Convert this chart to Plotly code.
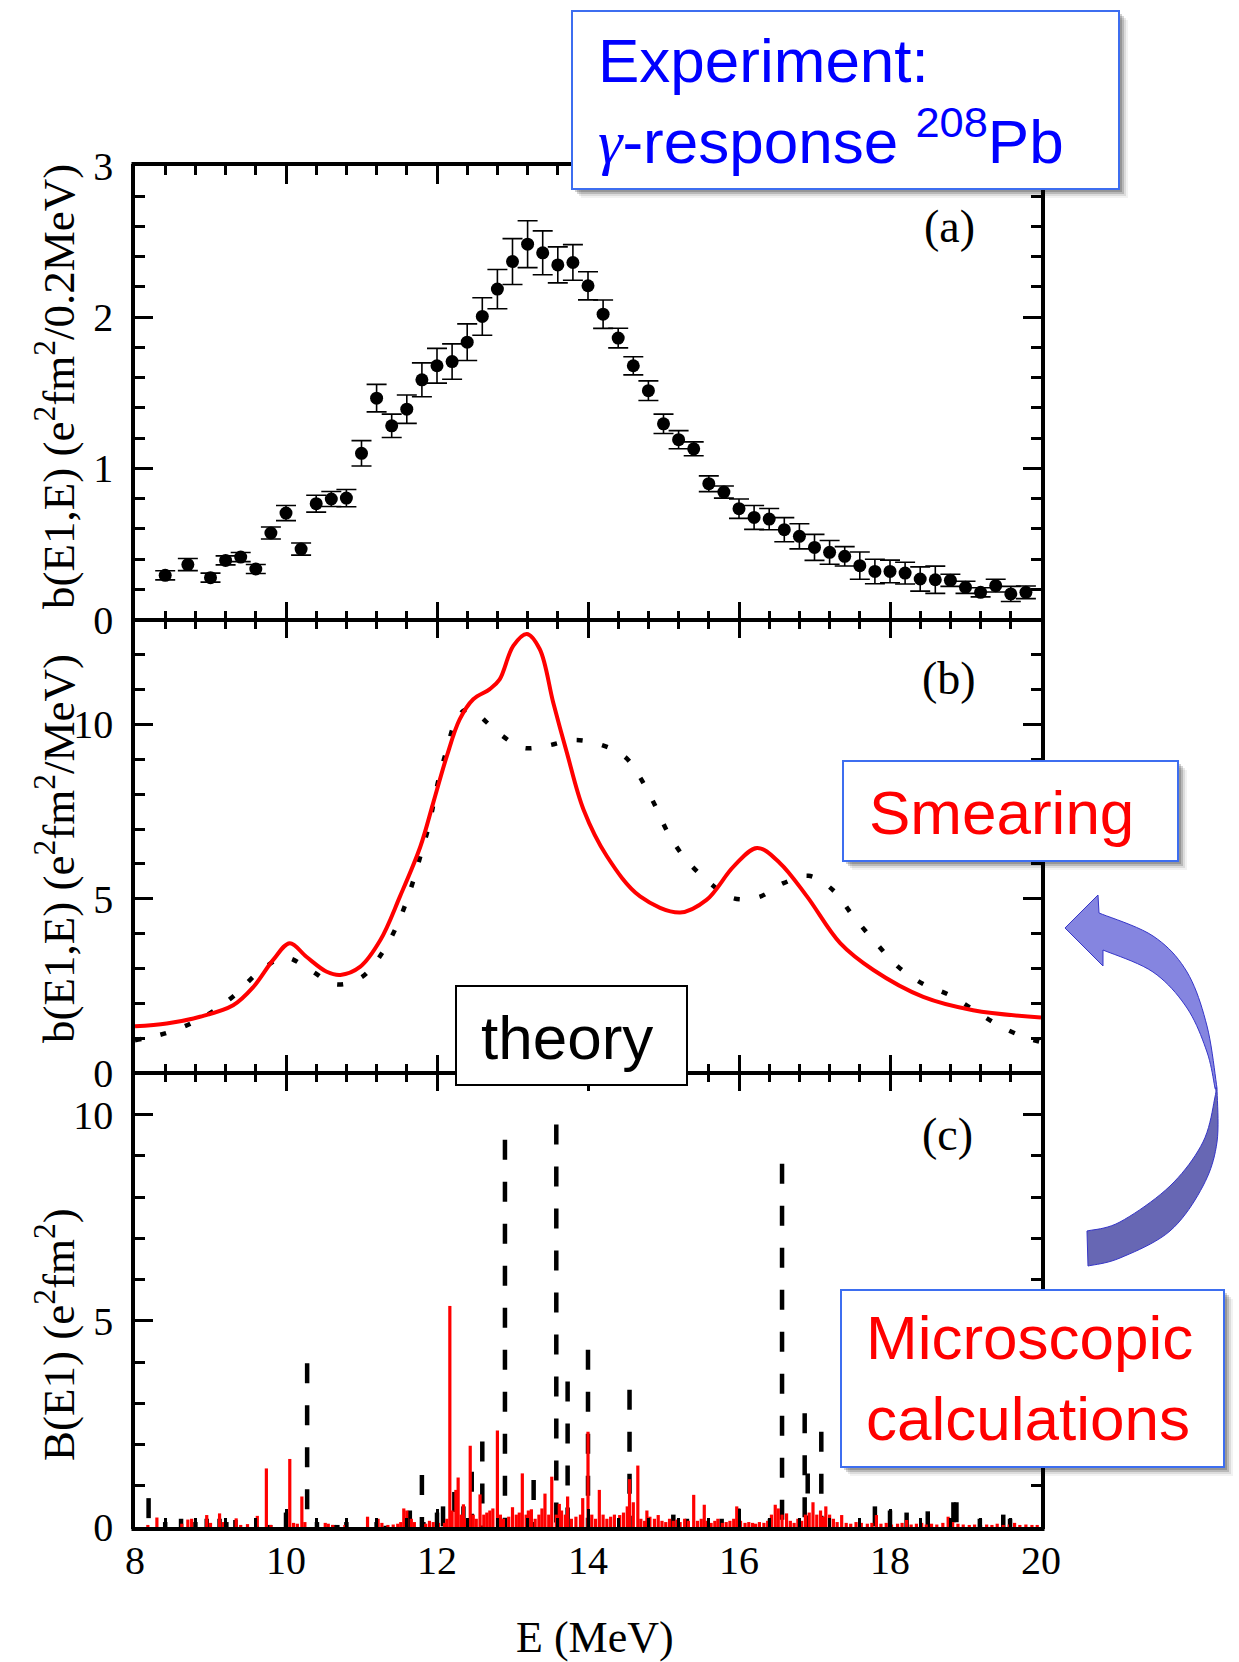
import plotly.graph_objects as go
from plotly.subplots import make_subplots

# ---------------- data ----------------
# (a) measured strength per 0.2 MeV bin with statistical errors
exp_energy = [8.4, 8.7, 9.0, 9.2, 9.4, 9.6, 9.8, 10.0, 10.2, 10.4, 10.6, 10.8,
              11.0, 11.2, 11.4, 11.6, 11.8, 12.0, 12.2, 12.4, 12.6, 12.8, 13.0,
              13.2, 13.4, 13.6, 13.8, 14.0, 14.2, 14.4, 14.6, 14.8, 15.0, 15.2,
              15.4, 15.6, 15.8, 16.0, 16.2, 16.4, 16.6, 16.8, 17.0, 17.2, 17.4,
              17.6, 17.8, 18.0, 18.2, 18.4, 18.6, 18.8, 19.0, 19.2, 19.4, 19.6, 19.8]
exp_strength = [0.293, 0.364, 0.278, 0.392, 0.414, 0.335, 0.573, 0.705, 0.467,
                0.767, 0.798, 0.804, 1.10, 1.465, 1.282, 1.392, 1.586, 1.679,
                1.707, 1.835, 2.005, 2.186, 2.368, 2.483, 2.426, 2.346, 2.362,
                2.208, 2.020, 1.862, 1.679, 1.514, 1.295, 1.190, 1.130, 0.899,
                0.844, 0.734, 0.676, 0.665, 0.595, 0.551, 0.478, 0.445, 0.419,
                0.357, 0.319, 0.319, 0.308, 0.269, 0.264, 0.260, 0.214, 0.181,
                0.225, 0.170, 0.181]
exp_error = [0.03, 0.04, 0.03, 0.03, 0.03, 0.03, 0.04, 0.05, 0.04, 0.056, 0.05,
             0.057, 0.084, 0.091, 0.077, 0.094, 0.112, 0.115, 0.117, 0.121,
             0.124, 0.13, 0.152, 0.155, 0.145, 0.119, 0.118, 0.093, 0.094,
             0.065, 0.06, 0.065, 0.064, 0.06, 0.046, 0.052, 0.04, 0.064, 0.079,
             0.07, 0.08, 0.083, 0.086, 0.079, 0.064, 0.09, 0.081, 0.075, 0.072,
             0.08, 0.09, 0.04, 0.04, 0.03, 0.042, 0.05, 0.042]

# (b) smeared strength functions
smear_red_energy = [8.0, 8.42, 8.86, 9.30, 9.57, 9.83, 10.05, 10.27, 10.54, 10.72,
                    10.98, 11.25, 11.51, 11.78, 11.95, 12.13, 12.30, 12.48, 12.70,
                    12.83, 13.01, 13.19, 13.36, 13.54, 13.72, 13.94, 14.25, 14.69,
                    15.22, 15.57, 15.93, 16.24, 16.54, 16.90, 17.34, 17.78, 18.44,
                    19.10, 20.0]
smear_red_value = [1.35, 1.43, 1.62, 1.95, 2.48, 3.25, 3.73, 3.34, 2.91, 2.82,
                   3.05, 3.82, 5.07, 6.50, 7.75, 9.09, 10.14, 10.72, 11.01,
                   11.29, 12.25, 12.59, 12.16, 10.62, 9.19, 7.56, 6.22, 5.07,
                   4.61, 4.97, 5.93, 6.46, 6.03, 5.07, 3.73, 2.96, 2.19,
                   1.81, 1.60]

smear_dot_energy = [8.0, 8.31, 8.66, 9.02, 9.32, 9.66, 9.99, 10.32, 10.66, 11.00,
                    11.28, 11.46, 11.59, 11.70, 11.80, 11.89, 12.03, 12.13, 12.23,
                    12.36, 12.48, 12.81, 13.14, 13.46, 13.81, 14.15, 14.49, 14.72,
                    14.89, 15.05, 15.27, 15.59, 15.92, 16.26, 16.59, 16.92, 17.25,
                    17.51, 17.80, 18.11, 18.44, 18.79, 19.13, 19.46, 19.79, 20.0]
smear_dot_value = [0.95, 1.09, 1.35, 1.76, 2.24, 2.94, 3.32, 2.96, 2.55, 2.75,
                   3.47, 4.19, 4.89, 5.62, 6.38, 7.08, 8.51, 9.28, 10.0,
                   10.40, 10.38, 9.76, 9.33, 9.39, 9.55, 9.43, 9.07, 8.37,
                   7.67, 6.93, 6.20, 5.50, 5.02, 5.05, 5.45, 5.66, 5.24,
                   4.51, 3.77, 3.05, 2.56, 2.24, 1.79, 1.35, 1.03, 0.90]

# (c) discrete transition strengths
black_energy = [8.18, 8.40, 8.61, 8.80, 8.95, 9.12, 9.21, 9.33, 9.61, 9.79, 10.00,
                10.28, 10.41, 10.63, 10.68, 10.80, 11.20, 11.32, 11.64, 11.80,
                11.82, 12.00, 12.08, 12.23, 12.35, 12.46, 12.60, 12.90, 13.28,
                13.58, 13.73, 14.00, 14.55, 15.13, 15.31, 15.77, 15.99, 16.41,
                16.57, 16.87, 16.91, 17.09, 17.80, 18.00, 18.22, 18.50, 18.84,
                18.88, 19.19, 19.50, 19.59]
black_strength = [0.70, 0.12, 0.20, 0.12, 0.20, 0.20, 0.12, 0.17, 0.03, 0.05, 0.35,
                  3.97, 0.12, 0.05, 0.05, 0.12, 0.12, 0.03, 0.40, 1.26,
                  0.12, 0.35, 0.50, 0.85, 0.50, 1.34, 2.07, 9.39, 1.14,
                  9.76, 3.53, 4.30, 3.33, 0.30, 0.20, 0.20, 0.45, 0.20,
                  8.81, 2.76, 1.30, 2.31, 0.50, 0.40, 0.35, 0.38, 0.60,
                  0.60, 0.20, 0.30, 0.20]

red_energy = [8.17, 8.29, 8.62, 8.70, 8.75, 8.95, 9.00, 9.12, 9.17, 9.34, 9.40,
              9.49, 9.62, 9.74, 9.80, 10.05, 10.10, 10.15, 10.21, 10.25, 10.52,
              10.56, 10.62, 10.78, 11.08, 11.22, 11.27, 11.35, 11.42, 11.48,
              11.52, 11.56, 11.60, 11.66, 11.70, 11.85, 11.90, 11.95, 12.02,
              12.10, 12.13, 12.17, 12.20, 12.25, 12.28, 12.32, 12.35, 12.38,
              12.44, 12.48, 12.52, 12.57, 12.62, 12.66, 12.70, 12.74, 12.80,
              12.84, 12.88, 12.95, 13.00, 13.05, 13.09, 13.13, 13.18, 13.21,
              13.25, 13.30, 13.35, 13.39, 13.43, 13.48, 13.52, 13.58, 13.62,
              13.65, 13.70, 13.73, 13.78, 13.84, 13.90, 13.93, 14.00, 14.05,
              14.10, 14.15, 14.20, 14.25, 14.30, 14.35, 14.42, 14.47, 14.52,
              14.55, 14.60, 14.66, 14.70, 14.75, 14.78, 14.82, 14.88, 14.93,
              14.98, 15.03, 15.08, 15.13, 15.18, 15.22, 15.28, 15.33, 15.40,
              15.45, 15.50, 15.54, 15.58, 15.63, 15.68, 15.72, 15.78, 15.83,
              15.88, 15.93, 15.97, 16.02, 16.08, 16.13, 16.18, 16.22, 16.27,
              16.33, 16.38, 16.43, 16.48, 16.52, 16.57, 16.63, 16.68, 16.73,
              16.78, 16.83, 16.88, 16.93, 16.98, 17.03, 17.08, 17.12, 17.15,
              17.20, 17.25, 17.30, 17.36, 17.42, 17.48, 17.55, 17.62, 17.70,
              17.76, 17.82, 17.88, 17.95, 18.02, 18.10, 18.16, 18.22, 18.28,
              18.35, 18.42, 18.48, 18.55, 18.62, 18.70, 18.77, 18.83, 18.90,
              18.97, 19.05, 19.12, 19.20, 19.28, 19.35, 19.42, 19.50, 19.58,
              19.65, 19.72, 19.80, 19.88, 19.95]
red_strength = [0.05, 0.23, 0.08, 0.18, 0.20, 0.29, 0.10, 0.33, 0.12, 0.21, 0.05,
                0.07, 0.27, 1.42, 0.05, 1.65, 0.10, 0.08, 0.74, 0.12, 0.10,
                0.08, 0.05, 0.05, 0.25, 0.20, 0.10, 0.05, 0.06, 0.08,
                0.12, 0.45, 0.40, 0.20, 0.12, 0.08, 0.15, 0.12, 0.10,
                0.10, 0.20, 5.36, 0.40, 0.90, 1.20, 0.30, 0.55, 0.20,
                1.97, 0.30, 0.20, 0.79, 0.30, 0.35, 0.40, 0.45, 2.34,
                0.30, 0.20, 0.25, 0.48, 0.30, 0.35, 1.30, 0.30, 0.40,
                0.43, 0.20, 0.30, 0.45, 0.81, 0.30, 1.22, 0.30, 0.56,
                0.40, 0.30, 0.74, 0.20, 0.25, 0.30, 0.70, 2.31, 0.30,
                0.20, 0.90, 0.30, 0.20, 0.25, 0.30, 0.29, 0.35, 0.50,
                1.16, 0.60, 1.49, 0.20, 0.15, 0.40, 0.25, 0.20, 0.29,
                0.15, 0.12, 0.20, 0.15, 0.18, 0.12, 0.20, 0.15, 0.78,
                0.15, 0.20, 0.54, 0.15, 0.10, 0.15, 0.20, 0.10, 0.12,
                0.15, 0.20, 0.50, 0.15, 0.10, 0.12, 0.10, 0.08, 0.12,
                0.10, 0.15, 0.30, 0.54, 0.45, 0.30, 0.33, 0.15, 0.10,
                0.20, 0.15, 0.30, 0.35, 0.60, 0.30, 0.40, 0.25, 0.50,
                0.30, 0.20, 0.12, 0.29, 0.10, 0.08, 0.12, 0.10, 0.08,
                0.10, 0.29, 0.08, 0.10, 0.06, 0.08, 0.10, 0.17, 0.06,
                0.08, 0.10, 0.06, 0.08, 0.06, 0.10, 0.25, 0.12, 0.08,
                0.06, 0.05, 0.06, 0.05, 0.06, 0.05, 0.08, 0.05, 0.06,
                0.10, 0.05, 0.06, 0.05, 0.05]

x_ticks = [8, 10, 12, 14, 16, 18, 20]

# ---------------- styling constants ----------------
SERIF = "Liberation Serif, Times New Roman, serif"
SANS = "Liberation Sans, Arial, sans-serif"
BLUE_EDGE = "#3d6ef0"
W, H = 1239, 1662
L, R, T, B = 135, 1041, 166, 1527   # plot-area edges in pixels
FRAME_X_LW = 2                      # horizontal frame lines (doubled between panels)
FRAME_Y_LW = 3.5


def fx(p):
    return (p - L) / (R - L)


def fy(p):
    return (B - p) / (B - T)


def sticks(energies, heights):
    xs, ys = [], []
    for e, h in zip(energies, heights):
        xs += [e, e, None]
        ys += [h, 0, None]
    return xs, ys


fig = make_subplots(rows=3, cols=1, shared_xaxes=True, vertical_spacing=0)

# (a) experiment
fig.add_trace(go.Scatter(
    x=exp_energy, y=exp_strength, mode="markers",
    marker=dict(color="black", size=13),
    error_y=dict(type="data", array=exp_error, color="black", thickness=1.6, width=10),
    showlegend=False), row=1, col=1)

# (b) smeared responses
fig.add_trace(go.Scatter(
    x=smear_dot_energy, y=smear_dot_value, mode="lines",
    line=dict(color="black", width=4.5, dash="6px,20px", shape="spline", smoothing=1.0),
    showlegend=False), row=2, col=1)
fig.add_trace(go.Scatter(
    x=smear_red_energy, y=smear_red_value, mode="lines",
    line=dict(color="#ff0000", width=4, shape="spline", smoothing=1.0),
    showlegend=False), row=2, col=1)

# (c) discrete strengths
bx, by = sticks(black_energy, black_strength)
fig.add_trace(go.Scatter(
    x=bx, y=by, mode="lines",
    line=dict(color="black", width=4.5, dash="20px,22px"),
    showlegend=False), row=3, col=1)
rx, ry = sticks(red_energy, red_strength)
fig.add_trace(go.Scatter(
    x=rx, y=ry, mode="lines",
    line=dict(color="#ff0000", width=3.2),
    showlegend=False), row=3, col=1)

axis_common = dict(
    showline=True, linecolor="black", mirror="allticks",
    ticks="inside", ticklen=18, tickwidth=3, tickcolor="black",
    showgrid=False, zeroline=False,
    tickfont=dict(family=SERIF, size=40, color="black"),
)

for i in (1, 2, 3):
    fig.update_xaxes(range=[8, 20], tickvals=x_ticks, linewidth=FRAME_X_LW,
                     minor=dict(dtick=0.4, ticks="inside", ticklen=9, tickwidth=3,
                                tickcolor="black", showgrid=False),
                     ticklabelstandoff=-3, row=i, col=1, **axis_common)
fig.update_xaxes(showticklabels=False, row=1, col=1)
fig.update_xaxes(showticklabels=False, row=2, col=1)
fig.update_xaxes(showticklabels=True, row=3, col=1)

y_specs = [([0, 3], 1, 0.2), ([0, 13], 5, 1), ([0, 11], 5, 1)]
for i, (rng, major, minor) in enumerate(y_specs, start=1):
    fig.update_yaxes(range=rng, dtick=major, linewidth=FRAME_Y_LW,
                     minor=dict(dtick=minor, ticks="inside", ticklen=10, tickwidth=3,
                                tickcolor="black", showgrid=False),
                     ticklabelstandoff=10, row=i, col=1, **axis_common)

shapes = []
annotations = []

# thicken outer top and bottom edges of the frame
for yy in (T - FRAME_X_LW - 1, B + FRAME_X_LW + 1):
    shapes.append(dict(type="line", xref="paper", yref="paper",
                       x0=fx(L - FRAME_Y_LW), x1=fx(R + FRAME_Y_LW), y0=fy(yy), y1=fy(yy),
                       line=dict(color="black", width=2), layer="above"))


def shadowed_box(x0, y0, x1, y1, edge, shadow=True, edge_width=2):
    if shadow:
        for d, a in ((9, 0.05), (7, 0.09), (5, 0.16), (3, 0.18)):
            shapes.append(dict(type="rect", xref="paper", yref="paper",
                               x0=fx(x0 + d), x1=fx(x1 + d), y0=fy(y0 + d), y1=fy(y1 + d),
                               fillcolor=f"rgba(0,0,0,{a})", line=dict(width=0),
                               layer="above"))
    shapes.append(dict(type="rect", xref="paper", yref="paper",
                       x0=fx(x0), x1=fx(x1), y0=fy(y0), y1=fy(y1),
                       fillcolor="white", line=dict(color=edge, width=edge_width),
                       layer="above"))


def box_text(x, y, text, color):
    annotations.append(dict(xref="paper", yref="paper", x=fx(x), y=fy(y),
                            xanchor="left", yanchor="middle", align="left",
                            text=text, showarrow=False,
                            font=dict(family=SANS, size=62, color=color)))


# caption boxes
shadowed_box(572, 11, 1119, 189, BLUE_EDGE)
box_text(596, 101,
         "Experiment:<br><span style=\"font-family:'Liberation Serif';font-style:italic\">γ</span>"
         "-response <sup>208</sup>Pb", "#0000ff")
shadowed_box(843, 761, 1178, 861, BLUE_EDGE)
box_text(867, 812, "Smearing", "#ff0000")
shadowed_box(841, 1290, 1224, 1467, BLUE_EDGE)
box_text(864, 1378, "Microscopic<br>calculations", "#ff0000")
shadowed_box(456, 986, 687, 1085, "black", shadow=False, edge_width=2)
box_text(479, 1037, "theory", "black")


# curved arrow from the bottom box up to the smearing panel
def catmull(pts, n=10):
    P = [pts[0]] + list(pts) + [pts[-1]]
    out = []
    for i in range(1, len(P) - 2):
        p0, p1, p2, p3 = P[i - 1], P[i], P[i + 1], P[i + 2]
        for k in range(n):
            t = k / n
            t2, t3 = t * t, t * t * t
            out.append(tuple(
                0.5 * (2 * p1[j] + (-p0[j] + p2[j]) * t
                       + (2 * p0[j] - 5 * p1[j] + 4 * p2[j] - p3[j]) * t2
                       + (-p0[j] + 3 * p1[j] - 3 * p2[j] + p3[j]) * t3)
                for j in (0, 1)))
    out.append(pts[-1])
    return out


def path_of(points):
    return "M " + " L ".join(f"{fx(px):.5f},{fy(py):.5f}" for px, py in points) + " Z"


outer_up = [(1099, 913), (1153, 936), (1187, 972), (1207, 1026), (1217, 1088)]
inner_up = [(1215, 1088), (1207, 1052), (1187, 1008), (1153, 972), (1103, 950)]
outer_lo = [(1217, 1088), (1217, 1142), (1203, 1186), (1170, 1231), (1120, 1258), (1088, 1266)]
inner_lo = [(1087, 1231), (1120, 1222), (1170, 1186), (1203, 1142), (1215, 1097), (1215, 1088)]

upper_piece = [(1065, 928), (1098, 895)] + catmull(outer_up) + catmull(inner_up) + [(1103, 966)]
lower_piece = catmull(outer_lo) + catmull(inner_lo)

shapes.append(dict(type="path", xref="paper", yref="paper", path=path_of(lower_piece),
                   fillcolor="#6767b4", line=dict(color="#3535c8", width=1), layer="above"))
shapes.append(dict(type="path", xref="paper", yref="paper", path=path_of(upper_piece),
                   fillcolor="#8585e0", line=dict(color="#3535c8", width=1), layer="above"))

# panel letters
for label, (px, py) in {"(a)": (949, 227), "(b)": (949, 678), "(c)": (947, 1134)}.items():
    annotations.append(dict(xref="paper", yref="paper", x=fx(px), y=fy(py),
                            xanchor="center", yanchor="middle", text=label,
                            showarrow=False, font=dict(family=SERIF, size=46, color="black")))

# axis titles
for text, py in (("b(E1,E) (e<sup>2</sup>fm<sup>2</sup>/0.2MeV)", 387),
                 ("b(E1,E) (e<sup>2</sup>fm<sup>2</sup>/MeV)", 849),
                 ("B(E1) (e<sup>2</sup>fm<sup>2</sup>)", 1335)):
    annotations.append(dict(xref="paper", yref="paper", x=fx(55), y=fy(py),
                            xanchor="center", yanchor="middle", textangle=-90,
                            text=text, showarrow=False,
                            font=dict(family=SERIF, size=45, color="black")))
annotations.append(dict(xref="paper", yref="paper", x=fx(595), y=fy(1637),
                        xanchor="center", yanchor="middle", text="E (MeV)",
                        showarrow=False, font=dict(family=SERIF, size=44, color="black")))

fig.update_layout(
    template="none",
    width=W, height=H, autosize=False,
    margin=dict(l=L, r=W - R, t=T, b=H - B, pad=0),
    paper_bgcolor="white", plot_bgcolor="white",
    showlegend=False,
    shapes=shapes, annotations=annotations,
)

fig.write_html("out.html")
